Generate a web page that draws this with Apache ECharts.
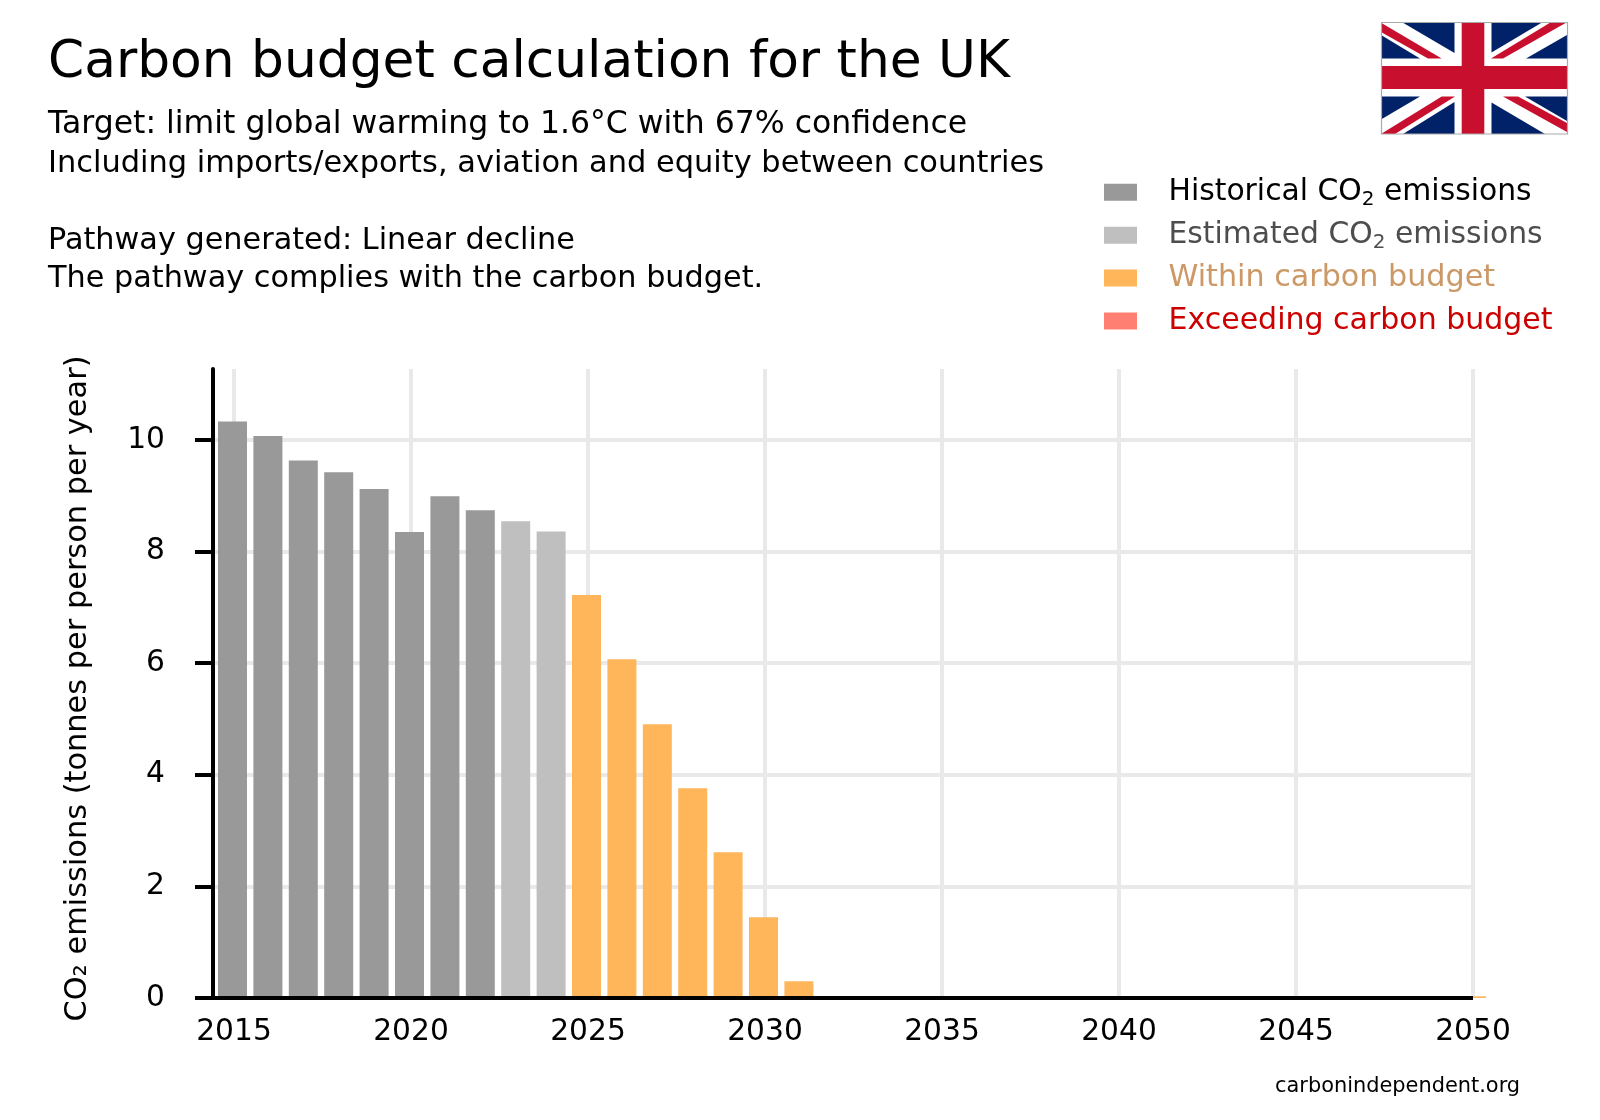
<!DOCTYPE html>
<html>
<head>
<meta charset="utf-8">
<style>html,body{margin:0;padding:0;background:#fff}#c{width:1600px;height:1120px}</style>
<script src="https://cdn.jsdelivr.net/npm/echarts@6/dist/echarts.min.js"></script>
</head>
<body>
<div id="c"></div>
<script>
const titleText = "Carbon budget calculation for the UK";
const subtitleLines = [
  "Target: limit global warming to 1.6°C with 67% confidence",
  "Including imports/exports, aviation and equity between countries",
  "",
  "Pathway generated: Linear decline",
  "The pathway complies with the carbon budget."
];
const subtitleSizes = [31.5, 30.45, 30, 30.3, 30.3];
const creditText = "carbonindependent.org";
const yAxisName = "CO₂ emissions (tonnes per person per year)";

const xTicks = [2015, 2020, 2025, 2030, 2035, 2040, 2045, 2050];
const yTicks = [0, 2, 4, 6, 8, 10];

const historicalYears = [2015, 2016, 2017, 2018, 2019, 2020, 2021, 2022];
const historicalValues = [10.33, 10.07, 9.63, 9.42, 9.12, 8.35, 8.99, 8.74];
const estimatedYears = [2023, 2024];
const estimatedValues = [8.54, 8.36];
const withinYears = [2025, 2026, 2027, 2028, 2029, 2030, 2031, 2032, 2033, 2034, 2035, 2036, 2037, 2038, 2039, 2040, 2041, 2042, 2043, 2044, 2045, 2046, 2047, 2048, 2049, 2050];
const withinValues = [7.22, 6.07, 4.905, 3.76, 2.61, 1.446, 0.30, 0, 0, 0, 0, 0, 0, 0, 0, 0, 0, 0, 0, 0, 0, 0, 0, 0, 0, 0.03];
const exceedingYears = [];
const exceedingValues = [];

const pair = (xs, ys) => xs.map((x, i) => [x, ys[i]]);
const FONT = '"DejaVu Sans"';

// flag artwork (decoration, not data)
const NAVY = '#012169', RED = '#C8102E';
const navyPieces = [
  [[1403,22.7],[1454.5,22.7],[1454.5,53]],
  [[1381,35],[1381,58.5],[1420,58.5]],
  [[1491.5,52.5],[1541.5,22.7],[1491.5,22.7]],
  [[1526,58.5],[1567,35],[1567,58.5]],
  [[1381,96.5],[1420,96.5],[1381,119.5]],
  [[1403,134],[1454.5,134],[1454.5,102]],
  [[1491.5,102.5],[1491.5,134],[1545,134]],
  [[1525,96.5],[1567,96.5],[1567,121]]
];
const redPieces = [
  [[1381,22.7],[1441.7,58.5],[1428,58.5],[1381,32]],
  [[1491,58.5],[1550,22.7],[1566,22.7],[1503,58.5]],
  [[1381,134],[1395,134],[1455,96.5],[1441.7,96.5]],
  [[1503,96.5],[1518,96.5],[1567,123],[1567,132]]
];
const flagGraphics = [
  {type:'rect', shape:{x:1381.5,y:22.5,width:186,height:111.5}, style:{fill:'#fff'}, z:10},
  ...navyPieces.map(p => ({type:'polygon', shape:{points:p}, style:{fill:NAVY}, z:11})),
  ...redPieces.map(p => ({type:'polygon', shape:{points:p}, style:{fill:RED}, z:11})),
  {type:'rect', shape:{x:1461.7,y:22.7,width:22.6,height:111.3}, style:{fill:RED}, z:12},
  {type:'rect', shape:{x:1381.5,y:66,width:185.5,height:23}, style:{fill:RED}, z:12},
  {type:'rect', shape:{x:1381.5,y:22.5,width:186,height:111.5}, style:{fill:'none', stroke:'#aaaaaa', lineWidth:1.2}, z:13}
];

const xMin = 2014.407, xMax = 2050, barShift = 0.042;
const legendNames = ["Historical CO2 emissions", "Estimated CO2 emissions", "Within carbon budget", "Exceeding carbon budget"];
const legendKeys = {
  [legendNames[0]]: '{h|Historical CO}{hs|2}{h| emissions}',
  [legendNames[1]]: '{e|Estimated CO}{es|2}{e| emissions}',
  [legendNames[2]]: '{w|Within carbon budget}',
  [legendNames[3]]: '{x|Exceeding carbon budget}'
};
const legendTops = [177.2, 220.2, 263, 306];
const lt = (c, s) => ({color:c, fontSize:s, fontFamily:FONT, lineHeight:36, verticalAlign:'middle'});
const ls = c => ({color:c, fontSize:20, fontFamily:FONT, lineHeight:24, verticalAlign:'bottom', padding:[12,0,0,0]});

const barSeries = (name, xs, ys, color) => ({
  name, type:'bar', xAxisIndex:1, barWidth:29, barGap:'-100%', clip:false,
  data:pair(xs, ys), itemStyle:{color}, silent:true
});

const chart = echarts.init(document.getElementById('c'), null, {renderer:'canvas', width:1600, height:1120});
chart.setOption({
  animation:false,
  backgroundColor:'#ffffff',
  title:[
    {text:titleText, left:48, top:38, padding:0, textStyle:{fontFamily:FONT, fontSize:51.8, fontWeight:'normal', color:'#000'}},
    ...subtitleLines.map((line, i) => ({text:line, left:48, top:106 + 38.5 * i, padding:0,
      textStyle:{fontFamily:FONT, fontSize:subtitleSizes[i], fontWeight:'normal', color:'#000', lineHeight:38.5}})).filter(t => t.text),
    {text:creditText, left:1275, top:1076, padding:0, textStyle:{fontFamily:FONT, fontSize:20.9, fontWeight:'normal', color:'#000'}}
  ],
  legend:legendNames.map((n, i) => ({
    orient:'vertical', left:1104, top:legendTops[i], padding:0, itemWidth:33, itemHeight:17,
    icon:'rect', selectedMode:false,
    data:[{name:n}],
    formatter:k => legendKeys[k],
    textStyle:{padding:[0,0,0,26.5], fontFamily:FONT, fontSize:29.8, rich:{
      h:lt('#000000', 29.8), hs:ls('#000000'),
      e:lt('#4d4d4d', 29.8), es:ls('#4d4d4d'),
      w:lt('#cc9966', 30.2), x:lt('#cc0000', 30)
    }}
  })),
  grid:{left:213, right:127, top:369, bottom:122},
  xAxis:[
    {type:'value', min:xMin, max:xMax, position:'bottom',
     axisLine:{show:false},
     axisTick:{show:false, customValues:xTicks},
     axisLabel:{customValues:xTicks, formatter:v => String(v), margin:19, fontFamily:FONT, fontSize:29.7, color:'#000'},
     splitLine:{show:true, lineStyle:{color:'#e9e9e9', width:4}}},
    {type:'value', min:xMin + barShift, max:xMax + barShift, position:'bottom', z:6,
     axisLine:{show:true, onZero:false, lineStyle:{color:'#000', width:4, cap:'butt'}},
     axisTick:{show:false}, axisLabel:{show:false}, splitLine:{show:false}}
  ],
  yAxis:{
    type:'value', min:0, max:11.27,
    name:yAxisName, nameLocation:'middle', nameRotate:90, nameGap:120,
    nameTextStyle:{fontFamily:FONT, fontSize:30.4, color:'#000', padding:[0,10,0,0]},
    axisLine:{show:true, onZero:false, lineStyle:{color:'#000', width:4}},
    axisTick:{show:true, customValues:yTicks, length:18, lineStyle:{color:'#000', width:4}},
    axisLabel:{customValues:yTicks, margin:48, fontFamily:FONT, fontSize:29.7, color:'#000'},
    splitLine:{show:true, lineStyle:{color:'#e9e9e9', width:4}}
  },
  series:[
    barSeries(legendNames[0], historicalYears, historicalValues, '#999999'),
    barSeries(legendNames[1], estimatedYears, estimatedValues, '#bfbfbf'),
    barSeries(legendNames[2], withinYears, withinValues, '#ffb55a'),
    barSeries(legendNames[3], exceedingYears, exceedingValues, '#ff8073')
  ],
  graphic:flagGraphics
});
</script>
</body>
</html>
